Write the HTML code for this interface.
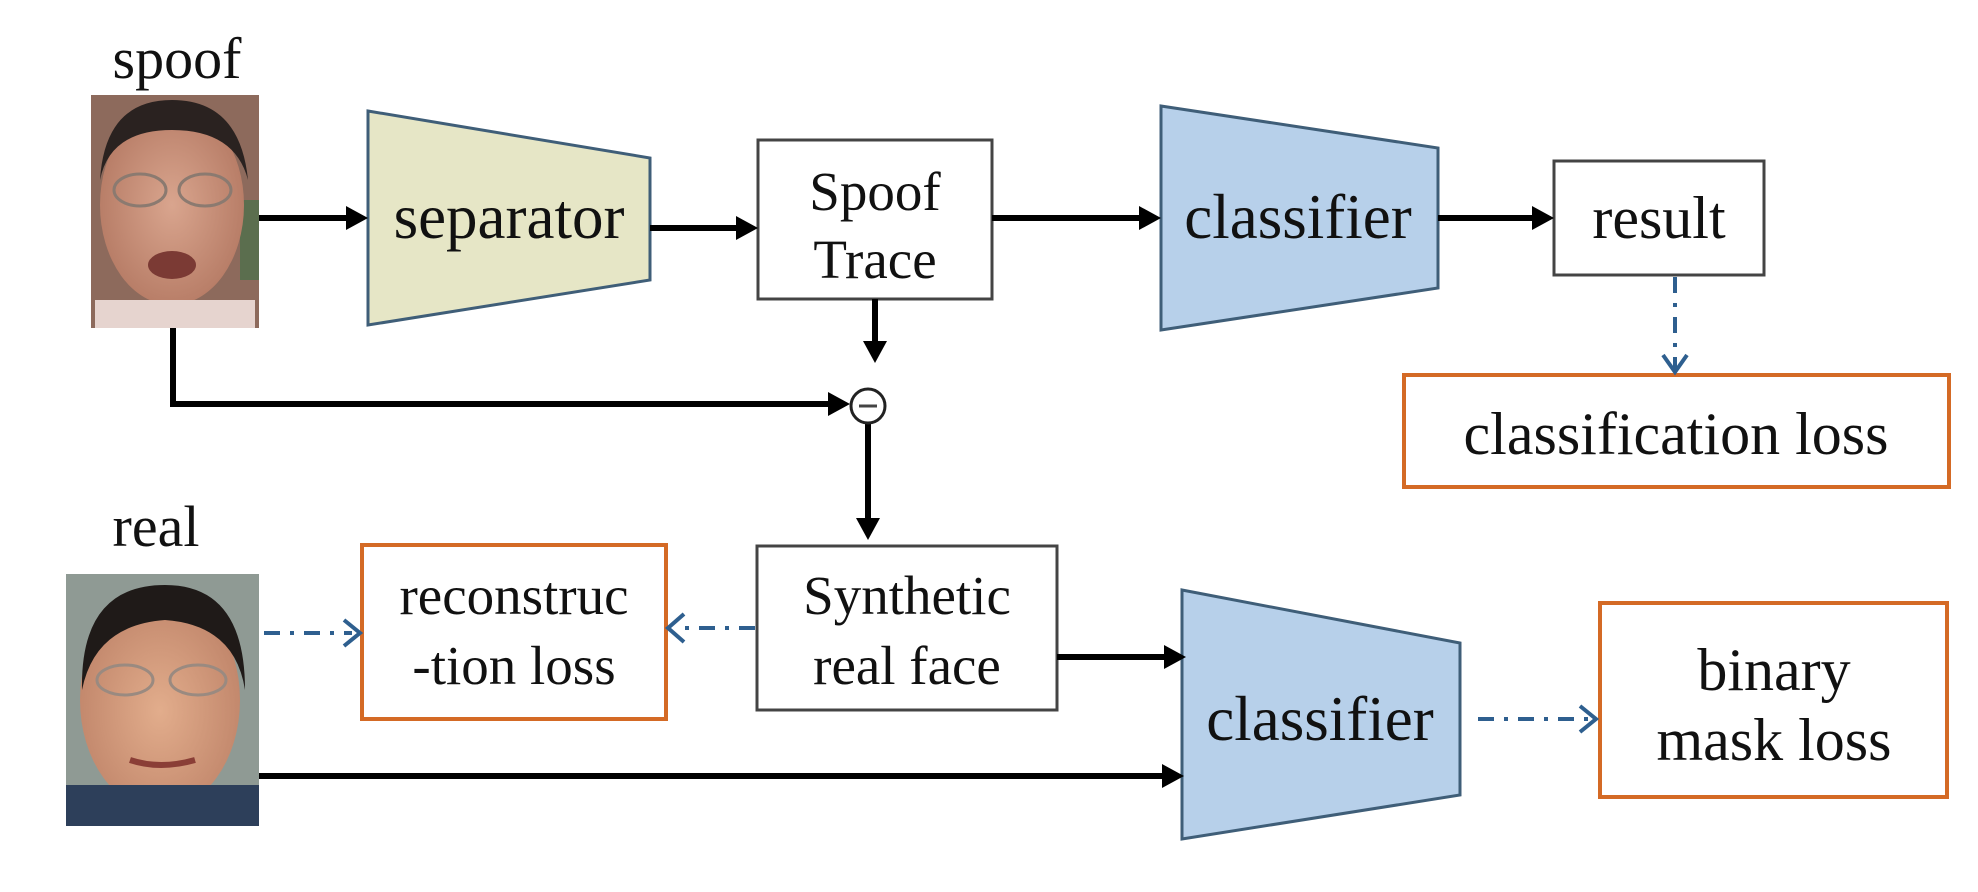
<!DOCTYPE html>
<html><head><meta charset="utf-8"><style>
html,body{margin:0;padding:0;background:#fff;}
svg{display:block;}
text{font-family:"Liberation Serif",serif;fill:#111;}
</style></head><body>
<svg width="1978" height="892" viewBox="0 0 1978 892" xmlns="http://www.w3.org/2000/svg">
<defs>
<radialGradient id="skin1" cx="50%" cy="50%" r="55%"><stop offset="0" stop-color="#d9a58e"/><stop offset="1" stop-color="#b57a64"/></radialGradient>
<radialGradient id="skin2" cx="50%" cy="55%" r="55%"><stop offset="0" stop-color="#e2ad8c"/><stop offset="1" stop-color="#c0856a"/></radialGradient>
</defs>

<text x="177" y="78" font-size="58" text-anchor="middle">spoof</text>
<text x="156" y="546" font-size="58" text-anchor="middle">real</text>

<g>
<rect x="91" y="95" width="168" height="233" fill="#8d6a5c"/>
<rect x="240" y="200" width="19" height="80" fill="#5b6e4e"/>
<ellipse cx="172" cy="205" rx="72" ry="100" fill="url(#skin1)"/>
<path d="M100 180 Q105 100 172 100 Q240 100 248 180 Q235 130 172 130 Q110 130 100 180Z" fill="#2a2220"/>
<rect x="95" y="300" width="160" height="28" fill="#e6d4cf"/>
<ellipse cx="140" cy="190" rx="26" ry="16" fill="none" stroke="#8b7a70" stroke-width="3"/>
<ellipse cx="205" cy="190" rx="26" ry="16" fill="none" stroke="#8b7a70" stroke-width="3"/>
<ellipse cx="172" cy="265" rx="24" ry="14" fill="#7b3a34"/>
</g>

<g>
<rect x="66" y="574" width="193" height="252" fill="#8f9a94"/>
<ellipse cx="160" cy="700" rx="80" ry="110" fill="url(#skin2)"/>
<path d="M82 690 Q80 585 165 585 Q245 585 245 690 Q235 625 165 620 Q95 625 82 690Z" fill="#1f1a18"/>
<rect x="66" y="785" width="193" height="41" fill="#2d3f5a"/>
<ellipse cx="125" cy="680" rx="28" ry="15" fill="none" stroke="#9a8a80" stroke-width="3"/>
<ellipse cx="198" cy="680" rx="28" ry="15" fill="none" stroke="#9a8a80" stroke-width="3"/>
<path d="M130 760 Q160 770 195 760" stroke="#8a3e36" stroke-width="6" fill="none"/>
</g>

<polygon points="368,111 650,158 650,280 368,325" fill="#e6e6c6" stroke="#3f5e78" stroke-width="3"/>
<text x="509" y="238" font-size="63" text-anchor="middle">separator</text>

<polygon points="1161,106 1438,148 1438,288 1161,330" fill="#b7d0ea" stroke="#3f5e78" stroke-width="3"/>
<text x="1298" y="238" font-size="63" text-anchor="middle">classifier</text>

<polygon points="1182,590 1460,643 1460,795 1182,839" fill="#b7d0ea" stroke="#3f5e78" stroke-width="3"/>
<text x="1320" y="740" font-size="63" text-anchor="middle">classifier</text>

<rect x="758" y="140" width="234" height="159" fill="#fff" stroke="#444" stroke-width="3"/>
<text x="875" y="210" font-size="55" text-anchor="middle">Spoof</text>
<text x="875" y="278" font-size="55" text-anchor="middle">Trace</text>

<rect x="1554" y="161" width="210" height="114" fill="#fff" stroke="#444" stroke-width="3"/>
<text x="1659" y="238" font-size="60" text-anchor="middle">result</text>

<rect x="1404" y="375" width="545" height="112" fill="#fff" stroke="#d46a25" stroke-width="4"/>
<text x="1676" y="454" font-size="60" text-anchor="middle">classification loss</text>

<rect x="757" y="546" width="300" height="164" fill="#fff" stroke="#444" stroke-width="3"/>
<text x="907" y="614" font-size="55" text-anchor="middle">Synthetic</text>
<text x="907" y="684" font-size="55" text-anchor="middle">real face</text>

<rect x="362" y="545" width="304" height="174" fill="#fff" stroke="#d46a25" stroke-width="4"/>
<text x="514" y="614" font-size="55" text-anchor="middle">reconstruc</text>
<text x="514" y="684" font-size="55" text-anchor="middle">-tion loss</text>

<rect x="1600" y="603" width="347" height="194" fill="#fff" stroke="#d46a25" stroke-width="4"/>
<text x="1774" y="690" font-size="60" text-anchor="middle">binary</text>
<text x="1774" y="760" font-size="60" text-anchor="middle">mask loss</text>

<g stroke="#000" stroke-width="6" fill="none">
<line x1="259" y1="218" x2="350" y2="218"/>
<line x1="650" y1="228" x2="740" y2="228"/>
<line x1="992" y1="218" x2="1143" y2="218"/>
<line x1="1438" y1="218" x2="1536" y2="218"/>
<polyline points="173,328 173,404 830,404"/>
<line x1="875" y1="299" x2="875" y2="345"/>
<line x1="868" y1="424" x2="868" y2="520"/>
<line x1="1057" y1="657" x2="1168" y2="657"/>
<line x1="259" y1="776" x2="1166" y2="776"/>
</g>
<g fill="#000">
<polygon points="368,218 346,206 346,230"/>
<polygon points="758,228 736,216 736,240"/>
<polygon points="1161,218 1139,206 1139,230"/>
<polygon points="1554,218 1532,206 1532,230"/>
<polygon points="850,404 828,392 828,416"/>
<polygon points="875,363 863,341 887,341"/>
<polygon points="868,540 856,518 880,518"/>
<polygon points="1186,657 1164,645 1164,669"/>
<polygon points="1184,776 1162,764 1162,788"/>
</g>
<circle cx="868" cy="406" r="17" fill="#fff" stroke="#222" stroke-width="3"/>
<line x1="859" y1="406" x2="877" y2="406" stroke="#444" stroke-width="3"/>

<g stroke="#2e5f8f" stroke-width="4" fill="none" stroke-dasharray="16,10,4,10">
<line x1="1675" y1="277" x2="1675" y2="370"/>
<line x1="264" y1="633" x2="352" y2="633"/>
<line x1="755" y1="628" x2="676" y2="628"/>
<line x1="1478" y1="719" x2="1590" y2="719"/>
</g>
<g stroke="#2e5f8f" stroke-width="4" fill="none">
<polyline points="1663,355 1675,372 1687,355"/>
<polyline points="344,620 360,633 344,646"/>
<polyline points="684,614 668,628 684,642"/>
<polyline points="1580,706 1596,719 1580,732"/>
</g>
</svg>
</body></html>
